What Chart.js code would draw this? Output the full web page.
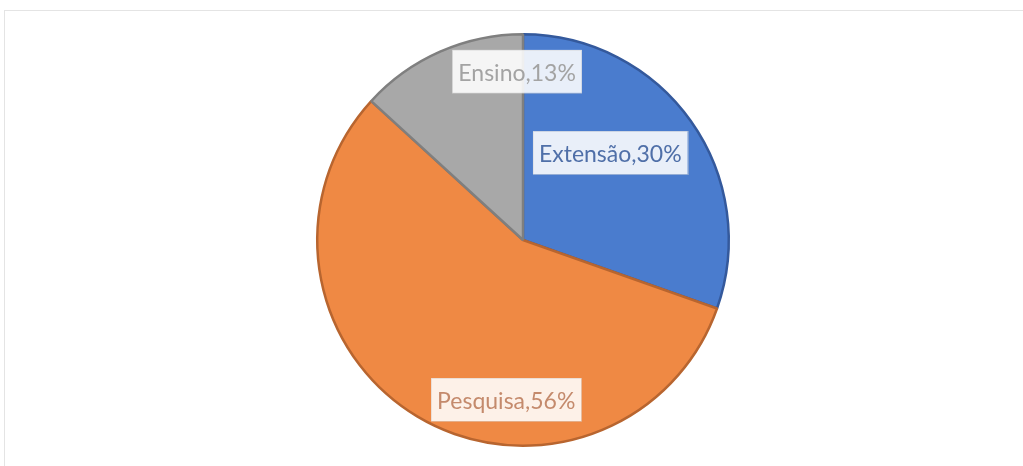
<!DOCTYPE html>
<html>
<head>
<meta charset="utf-8">
<script src="https://cdn.jsdelivr.net/npm/chart.js@4.4.0/dist/chart.umd.min.js"></script>
<style>
    html, body { margin: 0; padding: 0; background: #fff; }
    #wrap { width: 1023px; height: 466px; position: relative; }
</style>
</head>
<body>
<div id="wrap"><canvas id="myChart" width="1023" height="466"></canvas></div>
<script>
    // Values (slice shares, %)
    const categories = ['Extensão', 'Pesquisa', 'Ensino'];
    const shares = [30.4, 56.4, 13.2];
    const shownPercent = ['30%', '56%', '13%'];

    const fillColors = ['#4a7cce', '#ef8944', '#a8a8a8'];
    const edgeColors = ['#34599c', '#b8652f', '#7f7f7f'];
    const textColors = ['#4f6fa8', '#c48a6c', '#a3a3a3'];

    // where each label box sits: angle from 12 o'clock (deg) and fraction of radius
    const labelSpots = [
        { angle: 45, r: 0.60 },
        { angle: 186, r: 0.78 },
        { angle: 358, r: 0.82 }
    ];

    const framePlugin = {
        id: 'frame',
        beforeDraw(chart) {
            const c = chart.ctx;
            c.save();
            c.strokeStyle = '#e4e4e4';
            c.lineWidth = 1;
            c.strokeRect(4.5, 10.5, 1200, 600);
            c.restore();
        }
    };

    const boxLabels = {
        id: 'boxLabels',
        afterDatasetsDraw(chart) {
            const c = chart.ctx;
            const arcs = chart.getDatasetMeta(0).data;
            c.save();
            c.font = '23px Lato';
            c.textAlign = 'center';
            c.textBaseline = 'middle';
            arcs.forEach(function(arc, i) {
                const spot = labelSpots[i];
                const a = (spot.angle - 90) * Math.PI / 180;
                const x = arc.x + Math.cos(a) * arc.outerRadius * spot.r;
                const y = arc.y + Math.sin(a) * arc.outerRadius * spot.r;
                const text = categories[i] + ',' + shownPercent[i];
                const w = c.measureText(text).width + 12;
                const h = 43;
                c.fillStyle = 'rgba(255,255,255,0.88)';
                c.fillRect(x - w / 2, y - h / 2, w, h);
                c.strokeStyle = 'rgba(210,210,210,0.4)';
                c.lineWidth = 1;
                c.strokeRect(Math.round(x - w / 2) + 0.5, Math.round(y - h / 2) + 0.5, Math.round(w), h);
                c.fillStyle = textColors[i];
                c.fillText(text, x, y + 2);
            });
            c.restore();
        }
    };

    const ctx = document.getElementById('myChart').getContext('2d');
    new Chart(ctx, {
        type: 'pie',
        data: {
            labels: categories,
            datasets: [{
                data: shares,
                backgroundColor: fillColors,
                borderColor: edgeColors,
                borderWidth: 2.5
            }]
        },
        options: {
            responsive: false,
            animation: false,
            layout: { padding: { left: 23, right: 0, top: 33, bottom: 19 } },
            plugins: {
                legend: { display: false },
                tooltip: { enabled: false }
            }
        },
        plugins: [framePlugin, boxLabels]
    });
</script>
</body>
</html>
